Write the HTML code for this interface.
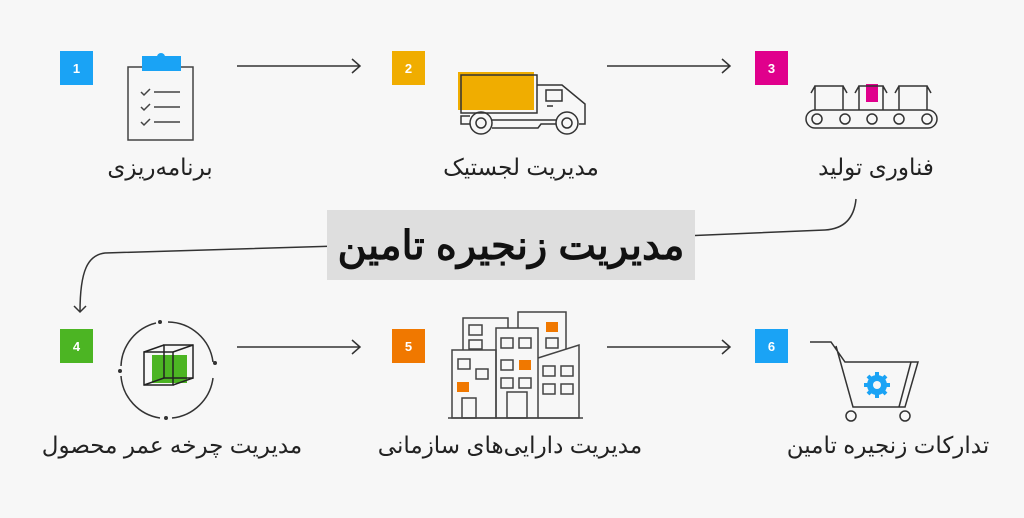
<!DOCTYPE html>
<html><head><meta charset="utf-8"><style>
html,body{margin:0;padding:0;background:#f7f7f7;}
svg{display:block;}
text{font-family:"Liberation Sans","Noto Sans CJK SC",sans-serif;}
</style></head><body>
<svg width="1024" height="518" viewBox="0 0 1024 518" xmlns="http://www.w3.org/2000/svg">
<rect width="1024" height="518" fill="#f7f7f7"/>
<g fill="none" stroke="#333" stroke-width="1.5">
<line x1="237" y1="66" x2="360" y2="66"/><polyline points="352,59 360,66 352,73"/>
<line x1="607" y1="66" x2="730" y2="66"/><polyline points="722,59 730,66 722,73"/>
<line x1="237" y1="347" x2="360" y2="347"/><polyline points="352,340 360,347 352,354"/>
<line x1="607" y1="347" x2="730" y2="347"/><polyline points="722,340 730,347 722,354"/>
<path d="M856,199 C854,220 842,229 825,230 L683,236"/>
<path d="M338,246 L105,253 C88,255 80,270 80,312"/><polyline points="74,306 80,312 86,306"/>
</g>
<rect x="327" y="210" width="368" height="70" fill="#dedede"/>
<text x="511" y="259" font-size="40" font-weight="bold" text-anchor="middle" fill="#111" direction="rtl">مدیریت زنجیره تامین</text>
<g font-size="13" font-weight="bold" fill="#fff" text-anchor="middle">
<rect x="60" y="51" width="33" height="34" fill="#1aa3f5"/><text x="76.5" y="73">1</text>
<rect x="392" y="51" width="33" height="34" fill="#f0ad00"/><text x="408.5" y="73">2</text>
<rect x="755" y="51" width="33" height="34" fill="#e0008c"/><text x="771.5" y="73">3</text>
<rect x="60" y="329" width="33" height="34" fill="#4cb523"/><text x="76.5" y="351">4</text>
<rect x="392" y="329" width="33" height="34" fill="#f07800"/><text x="408.5" y="351">5</text>
<rect x="755" y="329" width="33" height="34" fill="#1aa3f5"/><text x="771.5" y="351">6</text>
</g>
<!-- clipboard -->
<g fill="none" stroke="#444" stroke-width="1.5">
<rect x="128" y="67" width="65" height="73"/>
<path d="M141,92 l3,3 l6,-6 M141,107 l3,3 l6,-6 M141,122 l3,3 l6,-6"/>
<path d="M154,92 h26 M154,107 h26 M154,122 h26"/>
</g>
<rect x="142" y="56" width="39" height="15" fill="#1aa3f5"/><circle cx="161" cy="57" r="4" fill="#1aa3f5"/>
<!-- truck -->
<rect x="458" y="72" width="76" height="38" fill="#f0ad00"/>
<g fill="none" stroke="#333" stroke-width="1.5">
<rect x="461" y="75" width="76" height="38"/>
<path d="M537,85 H562 L585,104 V124 H579"/>
<rect x="546" y="90" width="16" height="11"/>
<line x1="547" y1="106" x2="553" y2="106"/>
<path d="M470,116 H461 V124 H470"/>
<path d="M492,120 H556 M492,128 H538 L541,124 H556"/>
<circle cx="481" cy="123" r="11"/><circle cx="481" cy="123" r="5"/>
<circle cx="567" cy="123" r="11"/><circle cx="567" cy="123" r="5"/>
</g>
<!-- conveyor -->
<rect x="866" y="84" width="12" height="18" fill="#e0008c"/>
<g fill="none" stroke="#333" stroke-width="1.5">
<rect x="806" y="110" width="131" height="18" rx="9"/>
<circle cx="817" cy="119" r="5"/><circle cx="845" cy="119" r="5"/><circle cx="872" cy="119" r="5"/><circle cx="899" cy="119" r="5"/><circle cx="927" cy="119" r="5"/>
<path d="M815,110 v-24 h28 v24 M811,93 l4,-7 M847,93 l-4,-7"/>
<path d="M859,110 v-24 h24 v24 M855,93 l4,-7 M887,93 l-4,-7"/>
<path d="M899,110 v-24 h28 v24 M895,93 l4,-7 M931,93 l-4,-7"/>
</g>
<!-- lifecycle -->
<g fill="none" stroke="#333" stroke-width="1.5">
<path d="M168,322 A46,46 0 0 1 213,362"/><path d="M213,378 A46,46 0 0 1 172,418"/><path d="M160,418 A46,46 0 0 1 121,376"/><path d="M121,366 A46,46 0 0 1 156,323"/>
</g>
<g fill="#333"><circle cx="160" cy="322" r="2"/><circle cx="215" cy="363" r="2"/><circle cx="166" cy="418" r="2"/><circle cx="120" cy="371" r="2"/></g>
<rect x="152" y="355" width="35" height="28" fill="#4cb523"/>
<g fill="none" stroke="#222" stroke-width="1.5">
<rect x="144" y="352" width="29" height="33"/><rect x="164" y="345" width="29" height="33"/>
<path d="M144,352 L164,345 M173,352 L193,345 M144,385 L164,378 M173,385 L193,378"/>
</g>
<!-- buildings -->
<g fill="#f07800"><rect x="546" y="322" width="12" height="10"/><rect x="519" y="360" width="12" height="10"/><rect x="457" y="382" width="12" height="10"/></g>
<g fill="none" stroke="#444" stroke-width="1.5">
<path d="M463,350 V318 H508 V328 M518,328 V312 H566 V349"/>
<rect x="452" y="350" width="44" height="68"/>
<rect x="496" y="328" width="42" height="90"/>
<path d="M538,358 L579,345 V418 H538"/>
<line x1="448" y1="418" x2="583" y2="418"/>
<rect x="469" y="325" width="13" height="10"/><rect x="469" y="340" width="13" height="9"/>
<rect x="546" y="338" width="12" height="10"/>
<rect x="458" y="359" width="12" height="10"/><rect x="476" y="369" width="12" height="10"/>
<rect x="462" y="398" width="14" height="20"/>
<rect x="501" y="338" width="12" height="10"/><rect x="519" y="338" width="12" height="10"/>
<rect x="501" y="360" width="12" height="10"/>
<rect x="501" y="378" width="12" height="10"/><rect x="519" y="378" width="12" height="10"/>
<rect x="507" y="392" width="20" height="26"/>
<rect x="543" y="366" width="12" height="10"/><rect x="561" y="366" width="12" height="10"/>
<rect x="543" y="384" width="12" height="10"/><rect x="561" y="384" width="12" height="10"/>
</g>
<!-- cart -->
<g fill="none" stroke="#333" stroke-width="1.5">
<path d="M810,342 H831 L845,362 H918 L905,407 H853 L836,346"/>
<path d="M911,362 L899,407"/>
<circle cx="851" cy="416" r="5"/><circle cx="905" cy="416" r="5"/>
</g>
<g fill="#1aa3f5">
<circle cx="877" cy="385" r="10"/>
<g stroke="#1aa3f5" stroke-width="4"><line x1="877" y1="372" x2="877" y2="398"/><line x1="864" y1="385" x2="890" y2="385"/><line x1="868" y1="376" x2="886" y2="394"/><line x1="886" y1="376" x2="868" y2="394"/></g>
</g>
<circle cx="877" cy="385" r="4" fill="#f7f7f7"/>
<!-- labels -->
<g font-size="23" fill="#222" text-anchor="middle" direction="rtl">
<text x="160" y="175">برنامه‌ریزی</text>
<text x="521" y="175">مدیریت لجستیک</text>
<text x="876" y="175">فناوری تولید</text>
<text x="172" y="453">مدیریت چرخه عمر محصول</text>
<text x="510" y="453">مدیریت دارایی‌های سازمانی</text>
<text x="888" y="453">تدارکات زنجیره تامین</text>
</g>
</svg>
</body></html>
